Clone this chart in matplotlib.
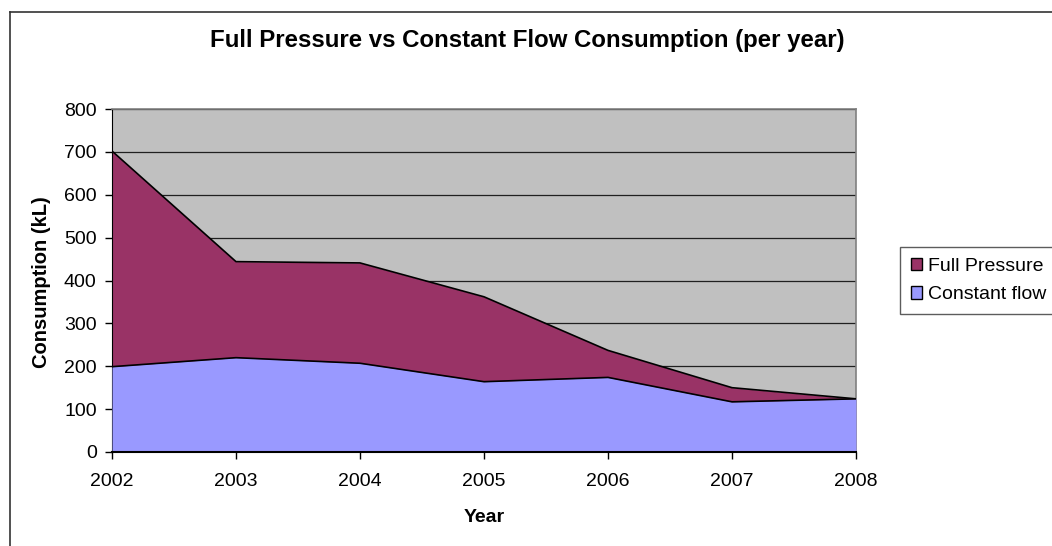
import numpy as np
import matplotlib
matplotlib.use("Agg")
import matplotlib.pyplot as plt
from matplotlib.patches import Patch
from matplotlib.lines import Line2D

plt.rcParams['font.family'] = ['Liberation Sans', 'DejaVu Sans']

years = [2002, 2003, 2004, 2005, 2006, 2007, 2008]
full_pressure = [702, 444, 441, 362, 237, 150, 124]
constant_flow = [199, 220, 207, 164, 174, 117, 124]

full_color = '#993366'
const_color = '#9999FF'

W, H = 1052, 546
fig = plt.figure(figsize=(W / 100, H / 100), dpi=100)
ax = fig.add_axes([112 / W, 1 - 452 / H, (856 - 112) / W, (452 - 109) / H])
ax.set_facecolor('#C0C0C0')

ax.fill_between(years, 0, full_pressure, color=full_color, zorder=2, lw=0)
ax.plot(years, full_pressure, color='black', lw=1.2, zorder=3)
ax.fill_between(years, 0, constant_flow, color=const_color, zorder=4, lw=0)
ax.plot(years, constant_flow, color='black', lw=1.2, zorder=5)

ax.set_xlim(2002, 2008)
ax.set_ylim(0, 800)
ax.set_xticks(years)
ax.set_yticks(range(0, 801, 100))
ax.yaxis.grid(True, color='#202020', lw=0.9, zorder=1)
ax.set_axisbelow(True)

for s in ['top', 'right']:
    ax.spines[s].set_color('#808080')
    ax.spines[s].set_linewidth(1.2)
ax.spines['left'].set_color('black')
ax.spines['bottom'].set_color('black')
ax.spines['bottom'].set_linewidth(1.5)
ax.spines['bottom'].set_zorder(6)

ax.tick_params(axis='both', direction='out', length=5, width=1, colors='black', labelsize=14)
ax.tick_params(axis='x', pad=10)
ax.tick_params(axis='y', pad=6)

fig.text(484 / W, 1 - 517 / H, 'Year', ha='center', va='center', fontsize=14, fontweight='bold')
fig.text(42 / W, 1 - 282 / H, 'Consumption (kL)', ha='center', va='center', rotation=90,
         fontsize=14.5, fontweight='bold')
fig.text(527 / W, 1 - 40 / H, 'Full Pressure vs Constant Flow Consumption (per year)',
         ha='center', va='center', fontsize=17.3, fontweight='bold')

# chart area border (cropped at right/bottom)
fig.add_artist(Line2D([10 / W, 10 / W], [0, 1 - 12 / H], color='#333333', lw=1.2,
                      transform=fig.transFigure))
fig.add_artist(Line2D([10 / W, 1], [1 - 12 / H, 1 - 12 / H], color='#333333', lw=1.2,
                      transform=fig.transFigure))

handles = [Patch(facecolor=full_color, edgecolor='black', label='Full Pressure'),
           Patch(facecolor=const_color, edgecolor='black', label='Constant flow')]
leg = fig.legend(handles=handles, loc='upper left', bbox_to_anchor=(900 / W, 1 - 247 / H),
                 fontsize=14, frameon=True, fancybox=False, edgecolor='#333333',
                 handlelength=0.6, handleheight=0.6, handletextpad=0.3, borderpad=0.55,
                 labelspacing=0.6, borderaxespad=0)
leg.get_frame().set_linewidth(1.0)

fig.savefig('out.png', dpi=100)
